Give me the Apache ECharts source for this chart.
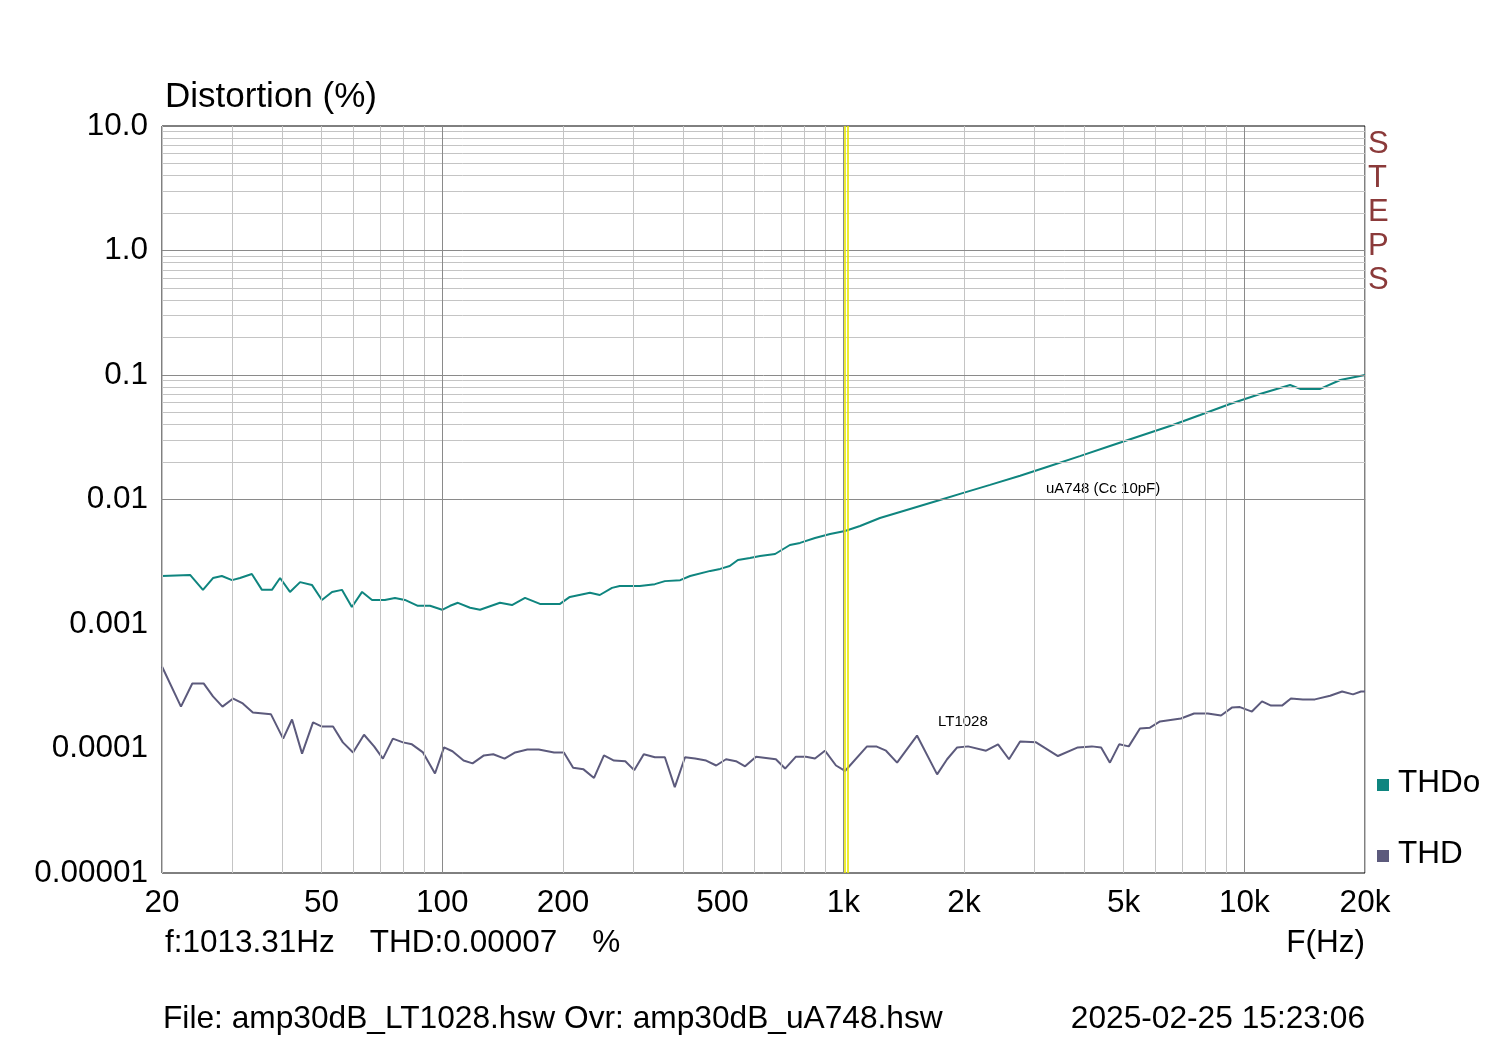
<!DOCTYPE html>
<html><head><meta charset="utf-8">
<script src="https://cdn.jsdelivr.net/npm/echarts@6/dist/echarts.min.js"></script>
<style>html,body{margin:0;padding:0;background:#fff}#c{width:1500px;height:1040px}</style>
</head><body><div id="c"></div>
<script>
const thdoFreq=[20,23.5,25.3,26.8,28.2,29.9,31.3,33.5,35.5,37.6,39.4,41.7,44.2,47.3,50.1,53.1,56.2,59.5,63.1,66.8,71.9,76.2,80.7,86.9,93.2,99.9,104.6,109.4,117.3,124.2,139.3,149.2,160.8,175.2,196.6,208,233.5,247,265,277,311,339,359,392,415,466,493,521,546,585,620,676,736,780,850,927,1010,1101,1234,1385,1553,1742,1955,2323,2760,3276,3890,4623,5493,6528,7760,9210,10940,13010,13780,15460,17350,20000];
const thdoVal=[0.00243,0.00248,0.00188,0.00234,0.00243,0.00225,0.00234,0.00252,0.00188,0.00188,0.00234,0.00181,0.00217,0.00206,0.00156,0.00181,0.00188,0.00137,0.00181,0.00156,0.00156,0.00162,0.00156,0.0014,0.0014,0.0013,0.0014,0.00148,0.00135,0.0013,0.00148,0.00142,0.00162,0.00145,0.00145,0.00165,0.00178,0.00171,0.00195,0.00202,0.00202,0.00209,0.00221,0.00225,0.00243,0.00267,0.00277,0.00292,0.00327,0.00339,0.00352,0.00365,0.00431,0.00448,0.00491,0.00528,0.00559,0.00612,0.0071,0.00794,0.00887,0.00991,0.0111,0.0131,0.0155,0.0186,0.0223,0.0269,0.0324,0.0389,0.0477,0.0585,0.0703,0.0831,0.0773,0.0773,0.0912,0.1];
const thdFreq=[20,22.3,23.8,25.4,26.8,28.3,30.1,31.8,33.7,37.4,40.1,42.2,44.7,47.6,50.1,53.4,56.5,59.9,63.8,67.6,71.1,75.3,79.8,84.0,89.5,95.9,101,106,113,119,127,134,143,152,163,174,190,201,212,225,239,253,268,286,301,318,339,359,380,403,427,455,482,510,540,569,606,679,716,762,807,850,900,959,1010,1021,1146,1208,1278,1362,1527,1714,1815,1923,2047,2270,2432,2590,2760,3025,3430,3845,4168,4395,4623,4875,5152,5493,5818,6165,6950,7496,8110,8750,9310,9750,10450,11070,11660,12420,13070,14000,15000,16370,17540,18670,19550,20000];
const thdVal=[4.56e-4,2.17e-4,3.33e-4,3.33e-4,2.62e-4,2.17e-4,2.52e-4,2.3e-4,1.95e-4,1.88e-4,1.2e-4,1.71e-4,0.91e-4,1.62e-4,1.5e-4,1.5e-4,1.12e-4,0.93e-4,1.29e-4,1.04e-4,0.83e-4,1.2e-4,1.12e-4,1.08e-4,0.93e-4,0.63e-4,1.02e-4,0.95e-4,0.80e-4,0.76e-4,0.88e-4,0.90e-4,0.83e-4,0.93e-4,0.98e-4,0.98e-4,0.93e-4,0.93e-4,0.70e-4,0.68e-4,0.58e-4,0.88e-4,0.80e-4,0.79e-4,0.67e-4,0.90e-4,0.85e-4,0.85e-4,0.49e-4,0.85e-4,0.83e-4,0.80e-4,0.73e-4,0.82e-4,0.79e-4,0.72e-4,0.86e-4,0.82e-4,0.69e-4,0.86e-4,0.86e-4,0.83e-4,0.96e-4,0.73e-4,0.66e-4,0.65e-4,1.04e-4,1.04e-4,0.96e-4,0.77e-4,1.27e-4,0.62e-4,0.82e-4,1.02e-4,1.04e-4,0.96e-4,1.08e-4,0.82e-4,1.14e-4,1.12e-4,0.87e-4,1.02e-4,1.04e-4,1.02e-4,0.77e-4,1.08e-4,1.04e-4,1.45e-4,1.47e-4,1.65e-4,1.74e-4,1.91e-4,1.91e-4,1.84e-4,2.13e-4,2.15e-4,1.98e-4,2.39e-4,2.21e-4,2.21e-4,2.52e-4,2.48e-4,2.48e-4,2.65e-4,2.87e-4,2.72e-4,2.87e-4,2.87e-4];
const xTickVals=[20,50,100,200,500,1000,2000,5000,10000,20000];
const xTickLabels=['20','50','100','200','500','1k','2k','5k','10k','20k'];
const yTickVals=[10,1,0.1,0.01,0.001,0.0001,0.00001];
const yTickLabels=['10.0','1.0','0.1','0.01','0.001','0.0001','0.00001'];
const xMinor=[20,30,40,50,60,70,80,90,200,300,400,500,600,700,800,900,2000,3000,4000,5000,6000,7000,8000,9000,20000];
const xMajor=[100,1000,10000];
const yMinorMult=[2,3,4,5,6,7,8,9];
const yDecades=[0.00001,0.0001,0.001,0.01,0.1,1];
const cursorFreq=1013.31;

const FONT='"Liberation Sans", Arial, sans-serif';
const lightGrid={color:'#c4c4c4',width:1,type:'solid'};
const darkGrid={color:'#8a8a8a',width:1,type:'solid'};
const gridLines=[];
xMinor.forEach(v=>gridLines.push({xAxis:v,lineStyle:lightGrid}));
yDecades.forEach(d=>yMinorMult.forEach(m=>gridLines.push({yAxis:d*m,lineStyle:lightGrid})));
xMajor.forEach(v=>gridLines.push({xAxis:v,lineStyle:darkGrid}));
yDecades.slice(1).forEach(d=>gridLines.push({yAxis:d,lineStyle:darkGrid}));
const tickFont={fontSize:31.5,color:'#000',fontFamily:FONT,opacity:1};

const chart=echarts.init(document.getElementById('c'));
chart.setOption({
 animation:false,
 grid:{left:162,right:135,top:126,bottom:167,show:true,borderColor:'#000',borderWidth:1,backgroundColor:'#fff'},
 xAxis:{type:'log',logBase:10,min:20,max:20000,axisLabel:{show:false},axisTick:{show:false},splitLine:{show:false},axisLine:{show:false}},
 yAxis:{type:'log',logBase:10,min:0.00001,max:10,axisLabel:{show:false},axisTick:{show:false},splitLine:{show:false},axisLine:{show:false}},
 series:[
  {type:'line',data:[],silent:true,z:1,markLine:{silent:true,symbol:'none',label:{show:false},animation:false,data:gridLines}},
  {type:'line',data:[],silent:true,z:3,markLine:{z:6,silent:true,symbol:'none',label:{show:false},animation:false,data:[
    {xAxis:cursorFreq*0.998,lineStyle:{color:'#e6e600',width:1.6,type:'solid',opacity:1}},
    {xAxis:cursorFreq*1.010,lineStyle:{color:'#e6e600',width:1.6,type:'solid',opacity:1}}]}},
  {type:'scatter',silent:true,symbolSize:0,data:xTickVals.map((v,i)=>({value:[v,0.00001],name:xTickLabels[i]})),
   label:{show:true,position:'bottom',distance:14,formatter:p=>p.name,...tickFont}},
  {type:'scatter',silent:true,symbolSize:0,data:yTickVals.map((v,i)=>({value:[20,v],name:yTickLabels[i]})),
   label:{show:true,position:'left',distance:14,formatter:p=>p.name,...tickFont}},
  {name:'THDo',type:'line',z:4,showSymbol:false,data:thdoFreq.map((f,i)=>[f,thdoVal[i]]),lineStyle:{color:'#0f857f',width:2},itemStyle:{color:'#0f857f'}},
  {name:'THD',type:'line',z:4,showSymbol:false,data:thdFreq.map((f,i)=>[f,thdVal[i]]),lineStyle:{color:'#5c5a7c',width:2},itemStyle:{color:'#5c5a7c'}}
 ],
 graphic:[
  {type:'text',left:165,top:80,style:{text:'Distortion (%)',font:'35px '+FONT,fill:'#000'}},
  {type:'text',left:1368,top:127,style:{text:'S\nT\nE\nP\nS',font:'31px '+FONT,fill:'#8b3a3a',lineHeight:34,align:'left'}},
  {type:'rect',shape:{x:1377,y:779,width:12,height:12},style:{fill:'#0f857f'}},
  {type:'text',left:1398,top:767,style:{text:'THDo',font:'31.5px '+FONT,fill:'#000'}},
  {type:'rect',shape:{x:1377,y:850,width:12,height:12},style:{fill:'#5c5a7c'}},
  {type:'text',left:1398,top:838,style:{text:'THD',font:'31.5px '+FONT,fill:'#000'}},
  {type:'text',left:1046,top:481,style:{text:'uA748 (Cc 10pF)',font:'15px '+FONT,fill:'#000'}},
  {type:'text',left:938,top:714,style:{text:'LT1028',font:'15px '+FONT,fill:'#000'}},
  {type:'text',left:165,top:927,style:{text:'f:1013.31Hz    THD:0.00007    %',font:'31.5px '+FONT,fill:'#000'}},
  {type:'text',right:135,top:927,style:{text:'F(Hz)',font:'31.5px '+FONT,fill:'#000'}},
  {type:'text',left:163,top:1003,style:{text:'File: amp30dB_LT1028.hsw Ovr: amp30dB_uA748.hsw',font:'31.7px '+FONT,fill:'#000'}},
  {type:'text',right:135,top:1003,style:{text:'2025-02-25 15:23:06',font:'31.7px '+FONT,fill:'#000'}}
 ]
});
</script></body></html>
